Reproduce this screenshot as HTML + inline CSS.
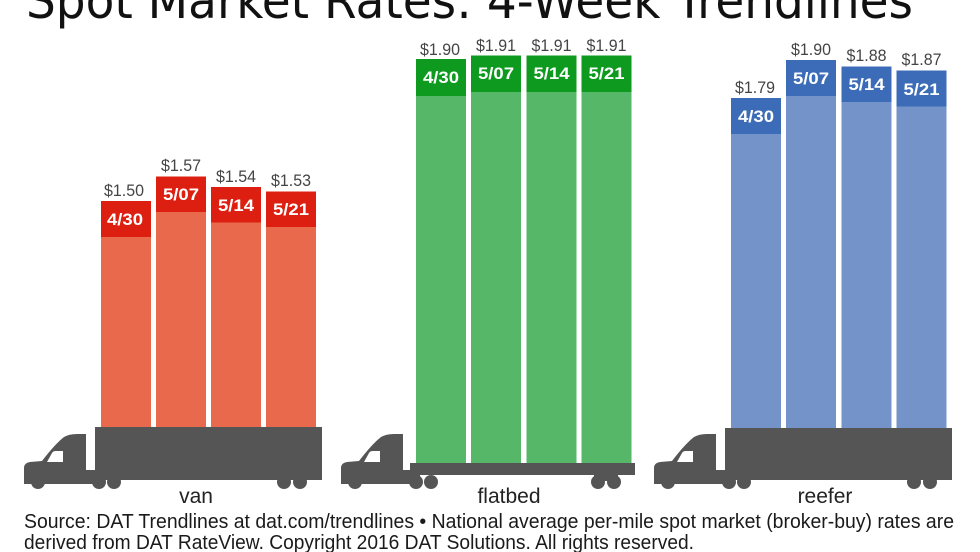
<!DOCTYPE html>
<html><head><meta charset="utf-8"><style>
html,body{margin:0;padding:0;background:#fff;}
svg{display:block;}
</style></head><body>
<svg width="980" height="552" viewBox="0 0 980 552" xmlns="http://www.w3.org/2000/svg">
<rect width="980" height="552" fill="#fff"/>
<!-- Title -->
<text x="26" y="18" font-family="DejaVu Sans, sans-serif" font-size="50" fill="#111" textLength="887" lengthAdjust="spacingAndGlyphs">Spot Market Rates: 4-Week Trendlines</text>

<defs>
<g id="cab">
  <path d="M24,484 L24,468 Q24,463 30,462 L42,461 Q55,444 64,437 Q69,434 77,434 L86,434 L86,470 L100,470 L100,484 Z" fill="#555"/>
  <path d="M47,462 L52,453 Q53,451 56,451 L63,451 L63,462 Z" fill="#fff"/>
  <circle cx="38" cy="482" r="7" fill="#555"/>
</g>
</defs>

<!-- VAN -->
<g font-family="Liberation Sans, sans-serif">
<rect x="101" y="201" width="50" height="227" fill="#E8694B"/>
<rect x="101" y="201" width="50" height="36" fill="#DC1F10"/>
<rect x="156" y="176.5" width="50" height="251.5" fill="#E8694B"/>
<rect x="156" y="176.5" width="50" height="35.5" fill="#DC1F10"/>
<rect x="211" y="187" width="50" height="241" fill="#E8694B"/>
<rect x="211" y="187" width="50" height="35.5" fill="#DC1F10"/>
<rect x="266" y="191.5" width="50" height="236.5" fill="#E8694B"/>
<rect x="266" y="191.5" width="50" height="35.5" fill="#DC1F10"/>
<g fill="#444" font-size="17" text-anchor="middle">
<text x="124" y="196" textLength="40" lengthAdjust="spacingAndGlyphs">$1.50</text>
<text x="181" y="171" textLength="40" lengthAdjust="spacingAndGlyphs">$1.57</text>
<text x="236" y="182" textLength="40" lengthAdjust="spacingAndGlyphs">$1.54</text>
<text x="291" y="186" textLength="40" lengthAdjust="spacingAndGlyphs">$1.53</text>
</g>
<g fill="#fff" font-size="17" font-weight="bold" text-anchor="middle">
<text x="125" y="225" textLength="36" lengthAdjust="spacingAndGlyphs">4/30</text>
<text x="181" y="200" textLength="36" lengthAdjust="spacingAndGlyphs">5/07</text>
<text x="236" y="211" textLength="36" lengthAdjust="spacingAndGlyphs">5/14</text>
<text x="291" y="215" textLength="36" lengthAdjust="spacingAndGlyphs">5/21</text>
</g>

<!-- FLATBED -->
<rect x="416" y="59" width="50" height="404" fill="#55B767"/>
<rect x="416" y="59" width="50" height="37" fill="#0E9A1F"/>
<rect x="471" y="55.5" width="50" height="407.5" fill="#55B767"/>
<rect x="471" y="55.5" width="50" height="36.5" fill="#0E9A1F"/>
<rect x="526.5" y="55.5" width="50" height="407.5" fill="#55B767"/>
<rect x="526.5" y="55.5" width="50" height="36.5" fill="#0E9A1F"/>
<rect x="581.5" y="55.5" width="50" height="407.5" fill="#55B767"/>
<rect x="581.5" y="55.5" width="50" height="36.5" fill="#0E9A1F"/>
<g fill="#444" font-size="17" text-anchor="middle">
<text x="440" y="55" textLength="40" lengthAdjust="spacingAndGlyphs">$1.90</text>
<text x="496" y="51" textLength="40" lengthAdjust="spacingAndGlyphs">$1.91</text>
<text x="551.5" y="51" textLength="40" lengthAdjust="spacingAndGlyphs">$1.91</text>
<text x="606.5" y="51" textLength="40" lengthAdjust="spacingAndGlyphs">$1.91</text>
</g>
<g fill="#fff" font-size="17" font-weight="bold" text-anchor="middle">
<text x="441" y="83" textLength="36" lengthAdjust="spacingAndGlyphs">4/30</text>
<text x="496" y="79" textLength="36" lengthAdjust="spacingAndGlyphs">5/07</text>
<text x="551.5" y="79" textLength="36" lengthAdjust="spacingAndGlyphs">5/14</text>
<text x="606.5" y="79" textLength="36" lengthAdjust="spacingAndGlyphs">5/21</text>
</g>

<!-- REEFER -->
<rect x="731" y="98" width="50" height="330" fill="#7494C9"/>
<rect x="731" y="98" width="50" height="36" fill="#3C6CB7"/>
<rect x="786" y="60" width="50" height="368" fill="#7494C9"/>
<rect x="786" y="60" width="50" height="36" fill="#3C6CB7"/>
<rect x="841.5" y="66.5" width="50" height="361.5" fill="#7494C9"/>
<rect x="841.5" y="66.5" width="50" height="35.5" fill="#3C6CB7"/>
<rect x="896.5" y="70.5" width="50" height="357.5" fill="#7494C9"/>
<rect x="896.5" y="70.5" width="50" height="36" fill="#3C6CB7"/>
<g fill="#444" font-size="17" text-anchor="middle">
<text x="755" y="93" textLength="40" lengthAdjust="spacingAndGlyphs">$1.79</text>
<text x="811" y="55" textLength="40" lengthAdjust="spacingAndGlyphs">$1.90</text>
<text x="866.5" y="61" textLength="40" lengthAdjust="spacingAndGlyphs">$1.88</text>
<text x="921.5" y="65" textLength="40" lengthAdjust="spacingAndGlyphs">$1.87</text>
</g>
<g fill="#fff" font-size="17" font-weight="bold" text-anchor="middle">
<text x="756" y="122" textLength="36" lengthAdjust="spacingAndGlyphs">4/30</text>
<text x="811" y="84" textLength="36" lengthAdjust="spacingAndGlyphs">5/07</text>
<text x="866.5" y="90" textLength="36" lengthAdjust="spacingAndGlyphs">5/14</text>
<text x="921.5" y="95" textLength="36" lengthAdjust="spacingAndGlyphs">5/21</text>
</g>
</g>

<!-- Trucks -->
<!-- van -->
<use href="#cab"/>
<rect x="95" y="427" width="227" height="53" fill="#555"/>
<g fill="#555">
<circle cx="99" cy="482" r="7"/><circle cx="114" cy="482" r="7"/>
<circle cx="284" cy="482" r="7"/><circle cx="300" cy="482" r="7"/>
</g>
<!-- flatbed -->
<use href="#cab" transform="translate(317,0)"/>
<rect x="410" y="463" width="225" height="12" fill="#555"/>
<rect x="400" y="470" width="20" height="12" fill="#555"/>
<g fill="#555">
<circle cx="416" cy="482" r="7"/><circle cx="431" cy="482" r="7"/>
<circle cx="598" cy="482" r="7"/><circle cx="614" cy="482" r="7"/>
<rect x="594" y="473" width="24" height="8"/>
</g>
<!-- reefer -->
<use href="#cab" transform="translate(630,0)"/>
<rect x="725" y="428" width="227" height="52" fill="#555"/>
<g fill="#555">
<circle cx="729" cy="482" r="7"/><circle cx="744" cy="482" r="7"/>
<circle cx="914" cy="482" r="7"/><circle cx="930" cy="482" r="7"/>
</g>

<!-- category labels -->
<g font-family="Liberation Sans, sans-serif" font-size="21" fill="#222" text-anchor="middle">
<text x="196" y="503">van</text>
<text x="509" y="503">flatbed</text>
<text x="825" y="503">reefer</text>
</g>

<!-- source -->
<g font-family="Liberation Sans, sans-serif" font-size="20" fill="#1a1a1a">
<text x="24" y="528" textLength="930" lengthAdjust="spacingAndGlyphs">Source: DAT Trendlines at dat.com/trendlines • National average per-mile spot market (broker-buy) rates are</text>
<text x="24" y="549" textLength="670" lengthAdjust="spacingAndGlyphs">derived from DAT RateView. Copyright 2016 DAT Solutions. All rights reserved.</text>
</g>
</svg>
</body></html>
